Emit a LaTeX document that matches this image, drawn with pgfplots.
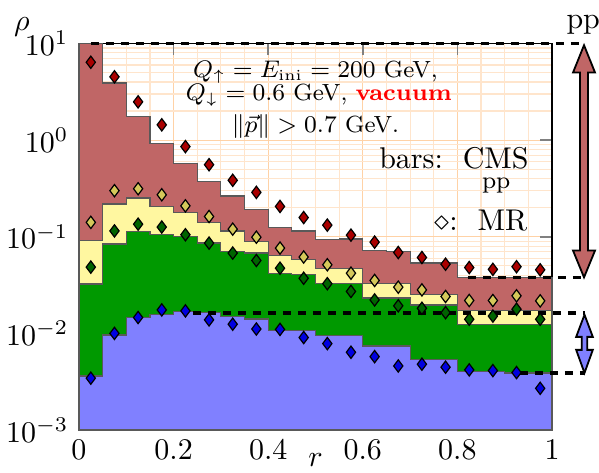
\documentclass[border=0pt]{standalone}
\usepackage{pgfplots}
\pgfplotsset{compat=1.18}
\usepackage{pgfplotstable}
\usetikzlibrary{calc}
\definecolor{redA}{RGB}{192,102,102}
\definecolor{yelA}{RGB}{255,247,160}
\definecolor{grnA}{RGB}{0,153,0}
\definecolor{bluA}{RGB}{128,128,255}
\definecolor{redM}{RGB}{170,0,0}
\definecolor{yelM}{RGB}{212,200,90}
\definecolor{grnM}{RGB}{0,100,0}
\definecolor{bluM}{RGB}{0,0,225}
\begin{document}
\pgfplotstableread{
x r y g b
0.00 10 0.0916 0.0324 0.00363
0.05 3.9 0.218 0.084 0.00963
0.10 1.74 0.252 0.113 0.0147
0.15 0.92 0.206 0.105 0.0158
0.20 0.57 0.18 0.101 0.0168
0.25 0.374 0.141 0.086 0.0164
0.30 0.264 0.115 0.0705 0.015
0.35 0.19 0.089 0.068 0.0141
0.40 0.125 0.0636 0.042 0.0107
0.45 0.115 0.0578 0.041 0.0107
0.50 0.093 0.0473 0.033 0.00946
0.55 0.095 0.0465 0.0326 0.00946
0.60 0.0716 0.033 0.0232 0.0074
0.65 0.070 0.033 0.0232 0.0074
0.70 0.0535 0.0251 0.0197 0.0054
0.75 0.0535 0.0251 0.0197 0.0054
0.80 0.0376 0.0172 0.0123 0.0040
0.85 0.0376 0.0172 0.0123 0.0040
0.90 0.0376 0.0172 0.0123 0.0039
0.95 0.0376 0.0172 0.0123 0.0039
1.00 0.0376 0.0172 0.0123 0.0039
}\hist
\pgfplotstableread{
x r y g b
0.025 6.4 0.141 0.0485 0.00344
0.075 4.52 0.30 0.115 0.0100
0.125 2.49 0.314 0.135 0.0146
0.175 1.44 0.272 0.126 0.0175
0.225 0.857 0.209 0.105 0.0171
0.275 0.557 0.162 0.086 0.0138
0.325 0.384 0.12 0.0678 0.01245
0.375 0.288 0.099 0.0568 0.0111
0.425 0.206 0.0764 0.0473 0.011
0.475 0.158 0.0617 0.0372 0.00906
0.525 0.132 0.0513 0.0327 0.00784
0.575 0.104 0.042 0.0272 0.00638
0.625 0.088 0.0353 0.0222 0.00575
0.675 0.0687 0.0301 0.0193 0.0046
0.725 0.061 0.0282 0.0182 0.0048
0.775 0.052 0.0241 0.0164 0.00447
0.825 0.048 0.0219 0.014 0.00419
0.875 0.046 0.0219 0.0151 0.00412
0.925 0.049 0.0245 0.0178 0.00393
0.975 0.0455 0.0217 0.014 0.0027
}\pts
\begin{tikzpicture}
\begin{axis}[name=ax, scale only axis, width=157.67pt, height=128.83pt,
  ymode=log, xmin=0, xmax=1, ymin=1e-3, ymax=10, log origin=infty,
  clip=false, grid=both, minor x tick num=3,
  xtick={0,0.2,0.4,0.6,0.8,1}, ytick={1e-3,1e-2,1e-1,1,10},
  major grid style={color=orange!35!white, line width=0.4pt},
  minor grid style={color=orange!20!white, line width=0.4pt},
  major tick length=4pt, minor tick length=0pt,
  tick style={gray, line width=0.5pt},
  axis line style={black, line width=0.5pt},
  xlabel={$r$}, ylabel={$\rho$},
  every axis x label/.style={at={(axis description cs:0.5,0)}, anchor=base, yshift=-12.3pt},
  every axis y label/.style={at={(axis description cs:0,1)}, anchor=base, xshift=-19pt, yshift=4.5pt},
]
\addplot[const plot, fill=redA, draw=black!65, line width=0.4pt] table[x=x,y=r]{\hist} \closedcycle;
\addplot[const plot, fill=yelA, draw=black!65, line width=0.4pt] table[x=x,y=y]{\hist} \closedcycle;
\addplot[const plot, fill=grnA, draw=black!65, line width=0.4pt] table[x=x,y=g]{\hist} \closedcycle;
\addplot[const plot, fill=bluA, draw=black!65, line width=0.4pt] table[x=x,y=b]{\hist} \closedcycle;
\draw[black, line width=1.1pt, dash pattern=on 2.8pt off 2.2pt] (axis cs:0.025,10) -- (axis cs:1.0677,10);
\draw[black, line width=1.1pt, dash pattern=on 2.8pt off 2.2pt] (axis cs:0.822,0.0376) -- (axis cs:1.0677,0.0376);
\draw[black, line width=1.1pt, dash pattern=on 2.8pt off 2.2pt] (axis cs:0.241,0.0163) -- (axis cs:1.0687,0.0163);
\draw[black, line width=1.1pt, dash pattern=on 2.8pt off 2.2pt] (axis cs:0.932,0.0039) -- (axis cs:1.0687,0.0039);
\addplot[only marks, mark=diamond*, mark size=2.05pt, mark options={draw=black, line width=0.4pt, fill=redM}] table[x=x,y=r]{\pts};
\addplot[only marks, mark=diamond*, mark size=2.05pt, mark options={draw=black, line width=0.4pt, fill=yelM}] table[x=x,y=y]{\pts};
\addplot[only marks, mark=diamond*, mark size=2.05pt, mark options={draw=black, line width=0.4pt, fill=grnM}] table[x=x,y=g]{\pts};
\addplot[only marks, mark=diamond*, mark size=2.05pt, mark options={draw=black, line width=0.4pt, fill=bluM}] table[x=x,y=b]{\pts};
\draw[fill=redA, line width=0.6pt] (axis cs:1.0677,9.6) -- (axis cs:1.0910,5.0) -- (axis cs:1.0762,5.0) -- (axis cs:1.0762,0.0721) -- (axis cs:1.0910,0.0721) -- (axis cs:1.0677,0.038) -- (axis cs:1.0444,0.0721) -- (axis cs:1.0592,0.0721) -- (axis cs:1.0592,5.0) -- (axis cs:1.0444,5.0) -- cycle;
\draw[fill=bluA, line width=0.6pt] (axis cs:1.0687,0.0156) -- (axis cs:1.0863,0.0092) -- (axis cs:1.0745,0.0092) -- (axis cs:1.0745,0.00675) -- (axis cs:1.0863,0.00675) -- (axis cs:1.0687,0.0039) -- (axis cs:1.0511,0.00675) -- (axis cs:1.0629,0.00675) -- (axis cs:1.0629,0.0092) -- (axis cs:1.0511,0.0092) -- cycle;
\node[anchor=base, inner sep=0, font=\fontsize{7.8}{9}\selectfont] at (axis description cs:0.5,0.913) {$Q_\uparrow=E_{\mathrm{ini}}=200$ GeV,};
\node[anchor=base, inner sep=0, font=\fontsize{7.8}{9}\selectfont] at (axis description cs:0.507,0.853) {$Q_\downarrow=0.6$ GeV, \textcolor{red}{\textbf{vacuum}}};
\node[anchor=base, inner sep=0, font=\fontsize{7.8}{9}\selectfont] at (axis description cs:0.5,0.769) {$\|\vec{p}\|>0.7$ GeV.};
\node[anchor=base east, inner sep=0] at (axis description cs:0.952,0.677) {bars:\ \ CMS};
\node[anchor=base, inner sep=0, font=\footnotesize] at (axis description cs:0.882,0.626) {pp};
\node[anchor=base east, inner sep=0] at (axis description cs:0.949,0.517) {$\diamond$:\ \ MR};
\node[anchor=base, inner sep=0] at (axis description cs:1.066,1) [yshift=5pt] {pp};
\end{axis}
\pgfresetboundingbox
\path[use as bounding box] ($(ax.south west)+(-26.33pt,-14pt)$) rectangle ($(ax.north east)+(15.67pt,14.5pt)$);
\end{tikzpicture}
\end{document}
